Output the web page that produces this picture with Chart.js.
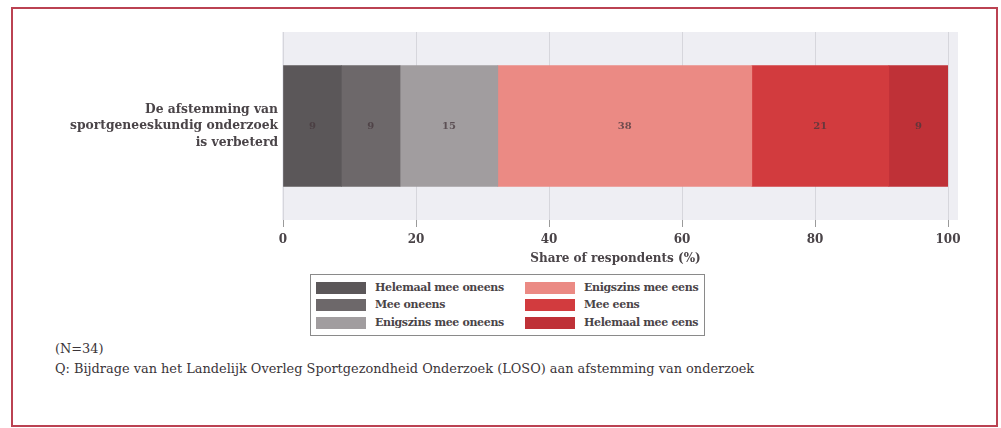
<!DOCTYPE html>
<html>
<head>
<meta charset="utf-8">
<script src="https://cdn.jsdelivr.net/npm/chart.js@4.4.1/dist/chart.umd.min.js"></script>
<style>
  html, body { margin: 0; padding: 0; background: #fff; width: 1001px; height: 428px; overflow: hidden; }
  #frame { position: absolute; left: 11px; top: 7px; width: 983px; height: 416px; border: 2px solid #bb4252; }
  #wrap { position: absolute; left: 0; top: 0; width: 1001px; height: 270px; }
  #legend { position: absolute; left: 310px; top: 274px; width: 393px; height: 60px; border: 1px solid #8a8a8a;
            font-family: "DejaVu Serif", serif; font-size: 11px; font-weight: bold; color: #4a4448; }
  .item { position: absolute; height: 12px; line-height: 12px; white-space: nowrap; }
  .sw { position: absolute; left: 0; top: 0; width: 50px; height: 12px; }
  .lt { position: absolute; left: 59px; top: 0px; letter-spacing: -0.35px; }
  #notes { position: absolute; left: 55px; top: 339px; font-family: "DejaVu Serif", serif; font-size: 12.9px; color: #3a3438; line-height: 20px; }
</style>
</head>
<body>
<div id="frame"></div>
<div id="wrap"><canvas id="c" width="1001" height="270"></canvas></div>
<div id="legend"></div>
<div id="notes"><div>(N=34)</div><div id="q">Q: Bijdrage van het Landelijk Overleg Sportgezondheid Onderzoek (LOSO) aan afstemming van onderzoek</div></div>
<script>
// ---- data ----
const categoryLines = [['De afstemming van', 'sportgeneeskundig onderzoek', 'is verbeterd']];
const seriesNames = ['Helemaal mee oneens', 'Mee oneens', 'Enigszins mee oneens', 'Enigszins mee eens', 'Mee eens', 'Helemaal mee eens'];
const seriesValues = [8.8, 8.8, 14.7, 38.2, 20.6, 8.9];
const valueLabels = ['9', '9', '15', '38', '21', '9'];
const xTickValues = [0, 20, 40, 60, 80, 100];
const axisTitle = 'Share of respondents (%)';
const seriesColors = ['#5b5759', '#6d686a', '#a19d9f', '#eb8a84', '#d23b3e', '#bf3137'];

const FONT = '"DejaVu Serif", serif';

const datasets = seriesNames.map((name, i) => ({
  label: name,
  data: [seriesValues[i]],
  backgroundColor: seriesColors[i],
  borderWidth: 0,
  barThickness: 121,
  valueLabel: valueLabels[i]
}));

const bgPlugin = {
  id: 'bg',
  beforeDraw(chart) {
    const a = chart.chartArea, ctx = chart.ctx;
    ctx.save();
    ctx.fillStyle = '#eeeef3';
    ctx.fillRect(a.left - 1, a.top, a.right - a.left + 11, a.bottom - a.top);
    ctx.restore();
  }
};

const labelPlugin = {
  id: 'vals',
  afterDatasetsDraw(chart) {
    const ctx = chart.ctx;
    ctx.save();
    ctx.font = 'bold 10px ' + FONT;
    ctx.fillStyle = 'rgba(70,55,60,0.75)';
    ctx.textAlign = 'center';
    ctx.textBaseline = 'middle';
    chart.data.datasets.forEach((ds, i) => {
      const bar = chart.getDatasetMeta(i).data[0];
      ctx.fillText(ds.valueLabel, (bar.x + bar.base) / 2, bar.y);
    });
    ctx.restore();
  }
};

new Chart(document.getElementById('c'), {
  type: 'bar',
  data: { labels: categoryLines, datasets },
  plugins: [bgPlugin, labelPlugin],
  options: {
    indexAxis: 'y',
    responsive: false,
    animation: false,
    layout: { padding: { top: 32, right: 53, left: 0, bottom: 4 } },
    plugins: { legend: { display: false }, tooltip: { enabled: false } },
    scales: {
      x: {
        stacked: true,
        min: 0, max: 100,
        afterBuildTicks(scale) { scale.ticks = xTickValues.map(v => ({ value: v })); },
        grid: { color: '#d6d6dc', lineWidth: 1, drawTicks: true, tickLength: 7, tickColor: '#9a9a9a' },
        border: { display: false },
        ticks: { font: { family: FONT, size: 12, weight: 'bold' }, color: '#4a4448', padding: 6, maxRotation: 0 },
        title: { display: true, text: axisTitle, font: { family: FONT, size: 12, weight: 'bold' }, color: '#4a4448', padding: { top: 0, bottom: 0 } },
        afterFit(scale) { scale.height = 46; }
      },
      y: {
        stacked: true,
        grid: { display: false, drawTicks: false },
        border: { display: false },
        ticks: { font: { family: FONT, size: 12.3, weight: 'bold', lineHeight: 1.35 }, color: '#4a4448', padding: 5 },
        afterFit(scale) { scale.width = 283; }
      }
    }
  }
});

// legend (column-major, two columns) built from series arrays
const leg = document.getElementById('legend');
const colX = [5, 214];
const rowY = [7, 24, 42];
seriesNames.forEach((name, i) => {
  const col = Math.floor(i / 3), row = i % 3;
  const it = document.createElement('div');
  it.className = 'item';
  it.style.left = colX[col] + 'px';
  it.style.top = rowY[row] + 'px';
  it.innerHTML = '<div class="sw" style="background:' + seriesColors[i] + '"></div><div class="lt">' + name + '</div>';
  leg.appendChild(it);
});
</script>
</body>
</html>
